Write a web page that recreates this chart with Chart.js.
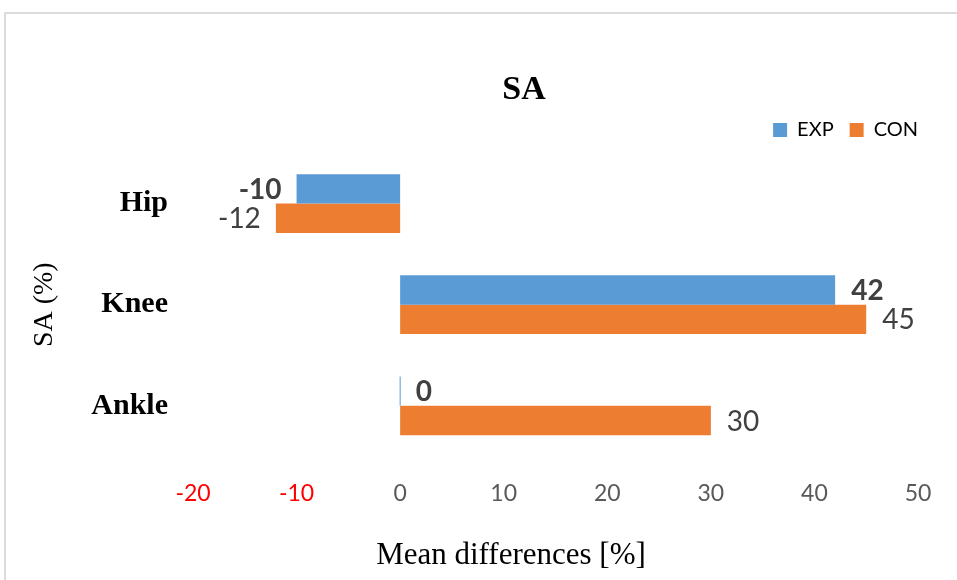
<!DOCTYPE html>
<html>
<head>
<meta charset="utf-8">
<script src="https://cdn.jsdelivr.net/npm/chart.js@4.4.1/dist/chart.umd.min.js"></script>
<style>
  html, body { margin: 0; padding: 0; background: #fff; overflow: hidden; }
  #wrap { position: relative; width: 957px; height: 580px; }
  #frame { position: absolute; left: 4px; top: 12px; width: 1000px; height: 700px;
           border: 2px solid #dcdcdc; box-sizing: border-box; }
  #chart { position: absolute; left: 0; top: 0; }
</style>
</head>
<body>
<div id="wrap">
  <div id="frame"></div>
  <canvas id="chart" width="957" height="580"></canvas>
</div>
<script>
const joints = ['Hip', 'Knee', 'Ankle'];
const expValues = [-10, 42, 0];
const conValues = [-12, 45, 30];
const xTicks = [-20, -10, 0, 10, 20, 30, 40, 50];

const chartTitle = 'SA';
const xTitle = 'Mean differences [%]';
const yTitle = 'SA (%)';

const legendPad = 16;

// value labels next to the bar ends
const barLabels = {
    id: 'barLabels',
    afterDatasetsDraw(chart) {
        const ctx = chart.ctx;
        ctx.save();
        ctx.textBaseline = 'middle';
        ctx.fillStyle = '#404040';
        chart.data.datasets.forEach((ds, i) => {
            const meta = chart.getDatasetMeta(i);
            ctx.font = (i === 0 ? 'bold ' : '') + '28px Lato';
            meta.data.forEach((bar, j) => {
                const v = ds.data[j];
                if (v < 0) {
                    ctx.textAlign = 'right';
                    ctx.fillText(String(v), bar.x - 15, bar.y + 1);
                } else {
                    ctx.textAlign = 'left';
                    ctx.fillText(String(v), bar.x + 16, bar.y + 1);
                }
            });
        });
        ctx.restore();
    }
};

// chart title and x axis title (not centred on the plot area in the original)
const freeTitles = {
    id: 'freeTitles',
    afterLayout(chart) {
        // drop the trailing item padding so the legend ends flush right
        chart.legend.left += legendPad;
        chart.legend.right += legendPad;
        chart.legend.top -= 3;
        chart.legend.bottom -= 3;
    },
    afterDraw(chart) {
        const ctx = chart.ctx;
        ctx.save();
        ctx.textAlign = 'center';
        ctx.textBaseline = 'middle';
        ctx.fillStyle = '#000';
        ctx.font = 'bold 34px "Liberation Serif"';
        ctx.fillText(chartTitle, 524, 90);
        ctx.font = '31px "Liberation Serif"';
        ctx.fillText(xTitle, 511, 556);
        ctx.restore();
    }
};

new Chart(document.getElementById('chart'), {
    type: 'bar',
    data: {
        labels: joints,
        datasets: [{
            label: 'EXP',
            data: expValues,
            backgroundColor: '#5B9BD5',
            minBarLength: 1,
            categoryPercentage: 0.58,
            barPercentage: 1
        }, {
            label: 'CON',
            data: conValues,
            backgroundColor: '#ED7D31',
            categoryPercentage: 0.58,
            barPercentage: 1
        }]
    },
    options: {
        indexAxis: 'y',
        responsive: false,
        animation: false,
        layout: {
            padding: { left: 20, right: 39, top: 107, bottom: 50 }
        },
        plugins: {
            title: { display: false },
            tooltip: { enabled: false },
            legend: {
                position: 'top',
                align: 'end',
                labels: {
                    boxWidth: 14,
                    boxHeight: 14,
                    padding: legendPad,
                    color: '#000',
                    font: { family: 'Lato', size: 20 }
                }
            }
        },
        scales: {
            x: {
                min: -20,
                max: 50,
                afterBuildTicks(scale) {
                    scale.ticks = xTicks.map(v => ({ value: v }));
                },
                grid: { display: false, drawTicks: false },
                border: { display: false },
                ticks: {
                    padding: 23,
                    font: { family: 'Lato', size: 23 },
                    color: ctx => ctx.tick.value < 0 ? '#FF0000' : '#595959'
                }
            },
            y: {
                afterFit(scale) { scale.width = 173; },
                grid: { display: false, drawTicks: false },
                border: { display: false },
                ticks: {
                    padding: 25,
                    color: '#000',
                    font: { family: 'Liberation Serif', size: 30, weight: 'bold' }
                },
                title: {
                    display: true,
                    text: yTitle,
                    color: '#000',
                    padding: { top: 8, bottom: 0 },
                    font: { family: 'Liberation Serif', size: 28 }
                }
            }
        }
    },
    plugins: [barLabels, freeTitles]
});
</script>
</body>
</html>
